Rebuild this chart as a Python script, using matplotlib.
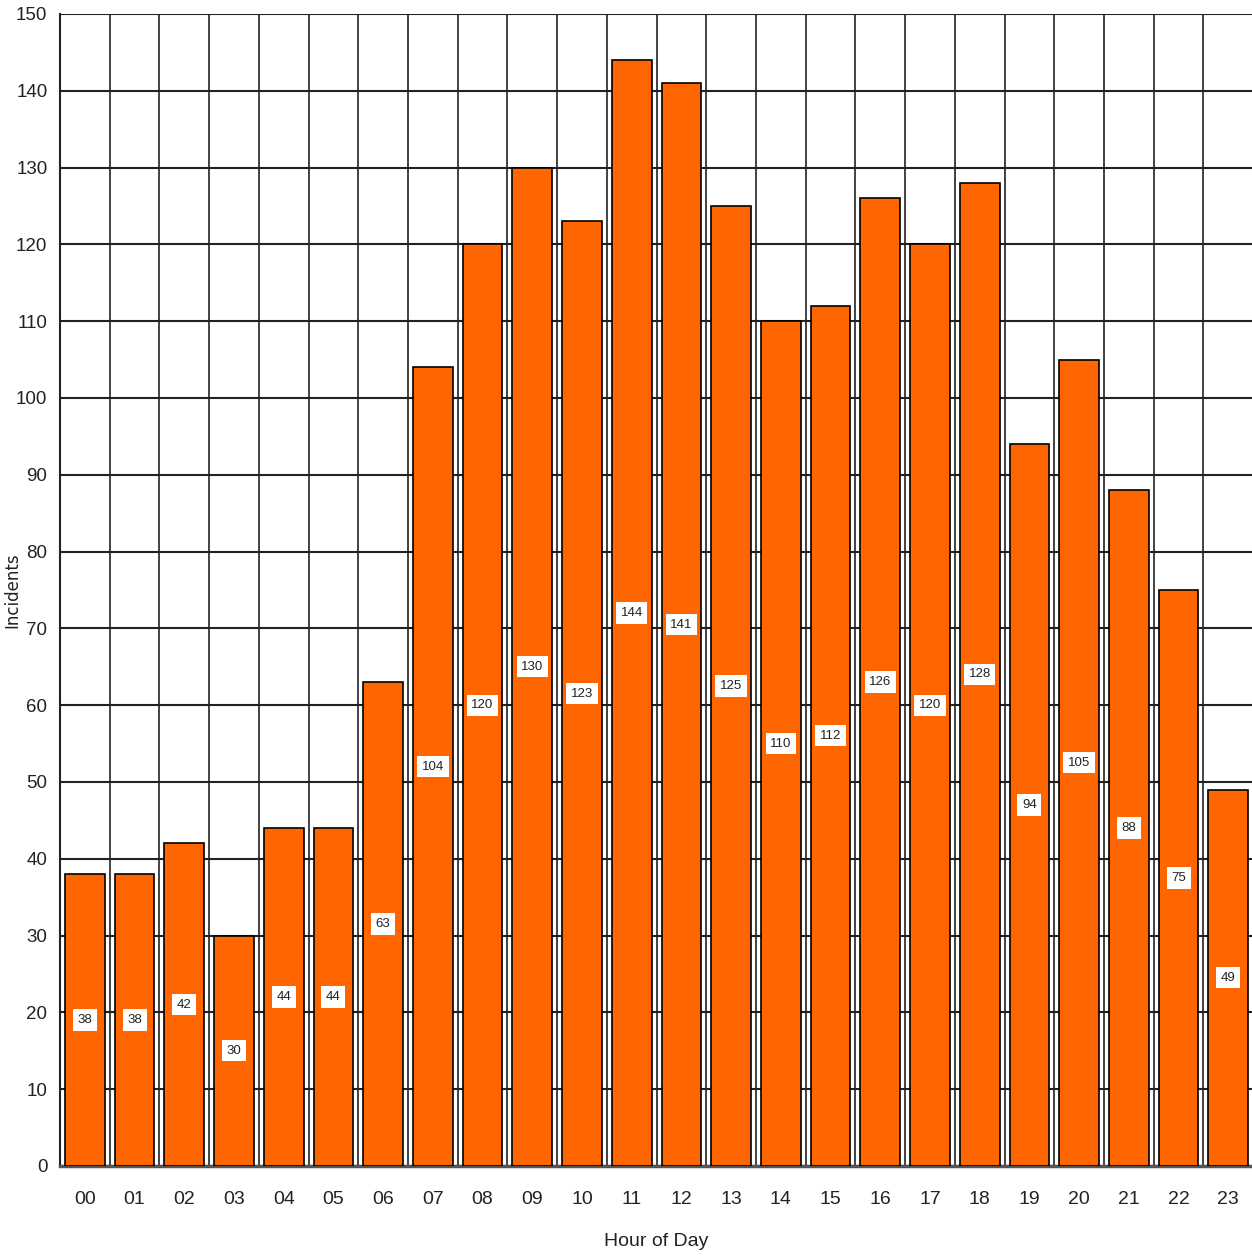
import matplotlib.pyplot as plt
import matplotlib.font_manager as fm

# Incidents by hour of day
hours = ["00", "01", "02", "03", "04", "05", "06", "07", "08", "09", "10", "11",
         "12", "13", "14", "15", "16", "17", "18", "19", "20", "21", "22", "23"]
incidents = [38, 38, 42, 30, 44, 44, 63, 104, 120, 130, 123, 144,
             141, 125, 110, 112, 126, 120, 128, 94, 105, 88, 75, 49]
y_ticks = list(range(0, 151, 10))

names = {f.name for f in fm.fontManager.ttflist}
narrow = ["Liberation Sans Narrow", "DejaVu Sans"] if "Liberation Sans Narrow" in names else ["Liberation Sans", "DejaVu Sans"]

fig = plt.figure(figsize=(12.52, 12.56), dpi=100)
ax = fig.add_axes([0.0479, 0.0717, 0.953, 0.9172])

x = range(len(hours))
ax.bar(x, incidents, width=0.8, color="#ff6600", edgecolor="black", linewidth=1.2, zorder=3)

# value labels in white boxes at half the bar height
for i, v in enumerate(incidents):
    ax.text(i, v / 2, str(v), ha="center", va="center", fontsize=9.5, family=narrow,
            color="#222222", zorder=4,
            bbox=dict(boxstyle="square,pad=0.35", facecolor="white", edgecolor="none"))

ax.set_xlim(-0.5, len(hours) - 0.5)
ax.set_ylim(0, 150)
ax.set_yticks(y_ticks)
ax.set_xticks(list(x))
ax.set_xticklabels(hours, family=narrow, fontsize=14)
ax.set_yticklabels([str(t) for t in y_ticks], family=narrow, fontsize=13.5)
ax.tick_params(axis="both", length=0, colors="#222222")
ax.tick_params(axis="x", pad=18)
ax.tick_params(axis="y", pad=9)

# grid: horizontal every 10, vertical between categories
for t in y_ticks:
    ax.axhline(t, color="#222222", linewidth=1.5, zorder=1)
for b in range(len(hours) - 1):
    ax.axvline(b + 0.5, color="#222222", linewidth=1.2, zorder=1)

for side in ["top", "right"]:
    ax.spines[side].set_visible(False)
ax.spines["left"].set_color("#222222")
ax.spines["left"].set_linewidth(1.5)
ax.spines["bottom"].set_color("#555555")
ax.spines["bottom"].set_linewidth(2.5)

ax.set_xlabel("Hour of Day", family=narrow, fontsize=14, color="#222222", va="center")
ax.xaxis.set_label_coords(0.5, -0.066)
ax.set_ylabel("Incidents", fontsize=12, color="#222222", va="center")
ax.yaxis.set_label_coords(-0.0395, 0.5)

fig.savefig("out.png", dpi=100)
